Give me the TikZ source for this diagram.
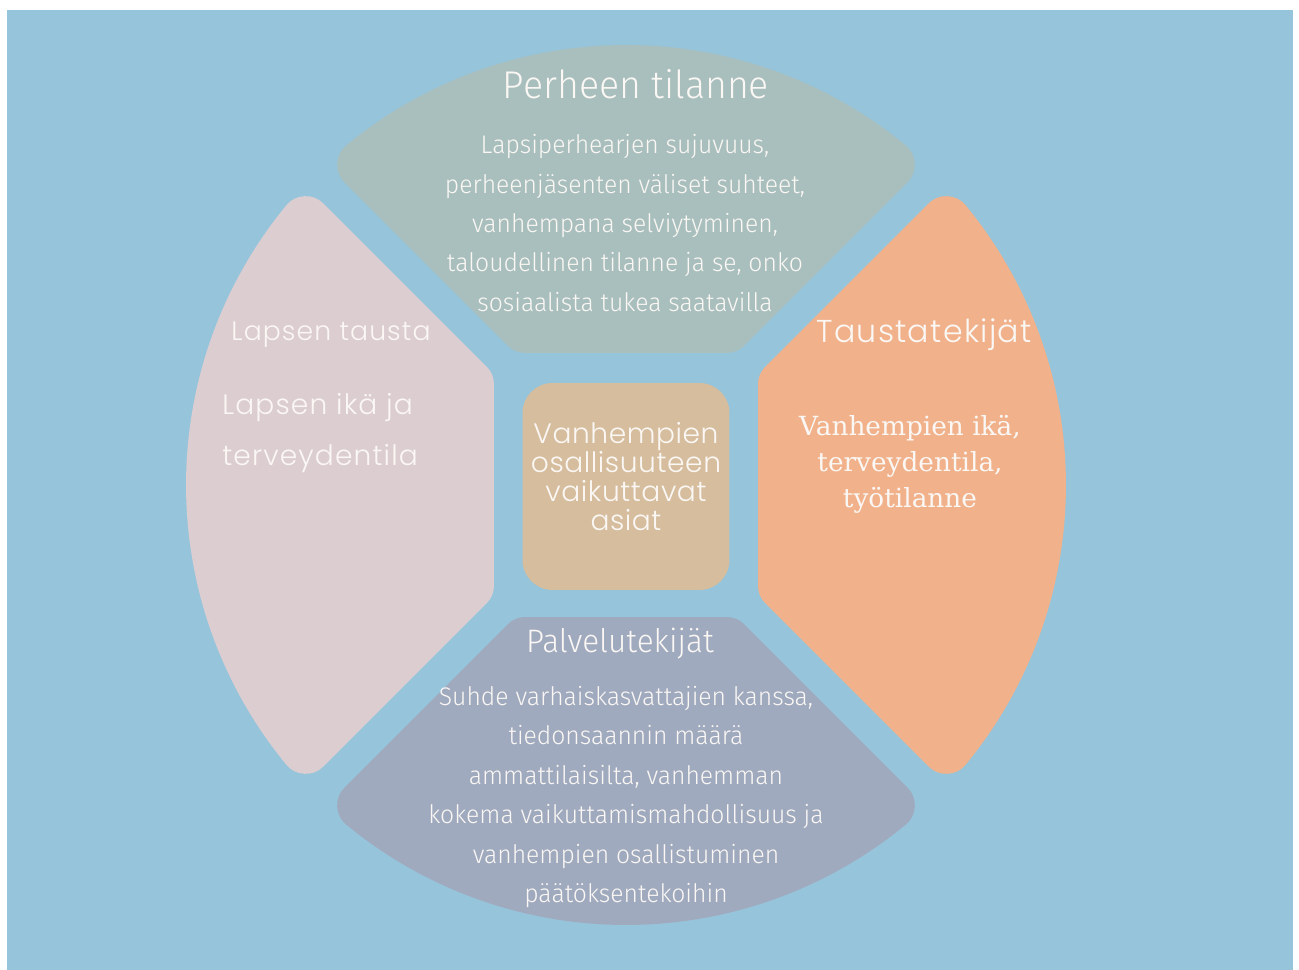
\documentclass[tikz,border=0pt]{standalone}
\usepackage{fontspec}
\setmainfont{Fira Sans Light}
\newfontfamily\condfont{Fira Sans Light}[FakeStretch=0.97]
\newfontfamily\widefont{Poppins Light}[LetterSpace=4]
\newfontfamily\corefont{Poppins Light}[LetterSpace=2]
\newfontfamily\slabfont{DejaVu Serif}
\definecolor{mybg}{RGB}{150,196,219}
\definecolor{toppart}{RGB}{169,191,189}
\definecolor{leftpart}{RGB}{220,205,209}
\definecolor{rightpart}{RGB}{241,178,139}
\definecolor{botpart}{RGB}{160,170,190}
\definecolor{corepart}{RGB}{214,189,157}
\definecolor{mytext}{RGB}{250,247,244}
\usetikzlibrary{positioning}

% one quarter of the wheel, shrunk by the corner radius
\newcommand{\segpath}{(-100.6,157) -- (129.48:415)
  arc[start angle=129.48, end angle=50.52, radius=415] -- (100.6,157) -- cycle}

\begin{document}
\begin{tikzpicture}[x=0.02cm,y=0.02cm,
  seg/.style={fill=#1,draw=#1,line width=1cm,line join=round},
  corebox/.style={fill=corepart,rounded corners=0.6cm,minimum size=4.14cm},
  every node/.style={text=mytext,inner sep=0pt},
  titletxt/.style={font=\condfont\fontsize{22}{26}\selectfont},
  bodytxt/.style={font=\condfont\fontsize{14.5}{22.4}\selectfont,align=center},
  widetxt/.style={font=\widefont\fontsize{16}{29}\selectfont},
  slabtxt/.style={font=\slabfont\fontsize{15}{20.4}\selectfont,align=center}
  ]
  \useasboundingbox (-626,-485) rectangle (673,485);

  % the background
  \fill[mybg] (-619,-485) rectangle (667,475);

  % the four parts of the wheel
  \foreach \ang/\col in {0/toppart,90/leftpart,180/botpart,270/rightpart}
    \path[seg=\col,rotate=\ang] \segpath;

  % the centre
  \node[corebox] (core) at (0,-1.5) {};
  \node[font=\corefont\fontsize{16}{16.5}\selectfont,align=center] (coretxt) at (0,8)
    {Vanhempien\\osallisuuteen\\vaikuttavat\\asiat};

  % top part
  \node[titletxt] (toptitle) at (10,401) {Perheen tilanne};
  \node[bodytxt] (topbody) at (-1,262) {Lapsiperhearjen sujuvuus,\\
    perheenjäsenten väliset suhteet,\\vanhempana selviytyminen,\\
    taloudellinen tilanne ja se, onko\\sosiaalista tukea saatavilla};

  % left part
  \node[widetxt,font=\widefont\fontsize{15.2}{26}\selectfont] (lefttitle) at (-295,150) {Lapsen tausta};
  \node[widetxt,align=left,anchor=west] (leftbody) at (-404,52)
    {Lapsen ikä ja\\terveydentila};

  % right part
  \node[widetxt,font=\widefont\fontsize{18}{26}\selectfont] (righttitle) at (298,150) {Taustatekijät};
  \node[slabtxt] (rightbody) at (284,21)
    {Vanhempien ikä,\\terveydentila,\\työtilanne};

  % bottom part
  \node[titletxt,font=\condfont\fontsize{18.5}{22}\selectfont] (bottitle) at (-6,-159) {Palvelutekijät};
  \node[bodytxt] (botbody) at (0,-312) {Suhde varhaiskasvattajien kanssa,\\
    tiedonsaannin määrä\\ammattilaisilta, vanhemman\\
    kokema vaikuttamismahdollisuus ja\\vanhempien osallistuminen\\
    päätöksentekoihin};
\end{tikzpicture}
\end{document}
